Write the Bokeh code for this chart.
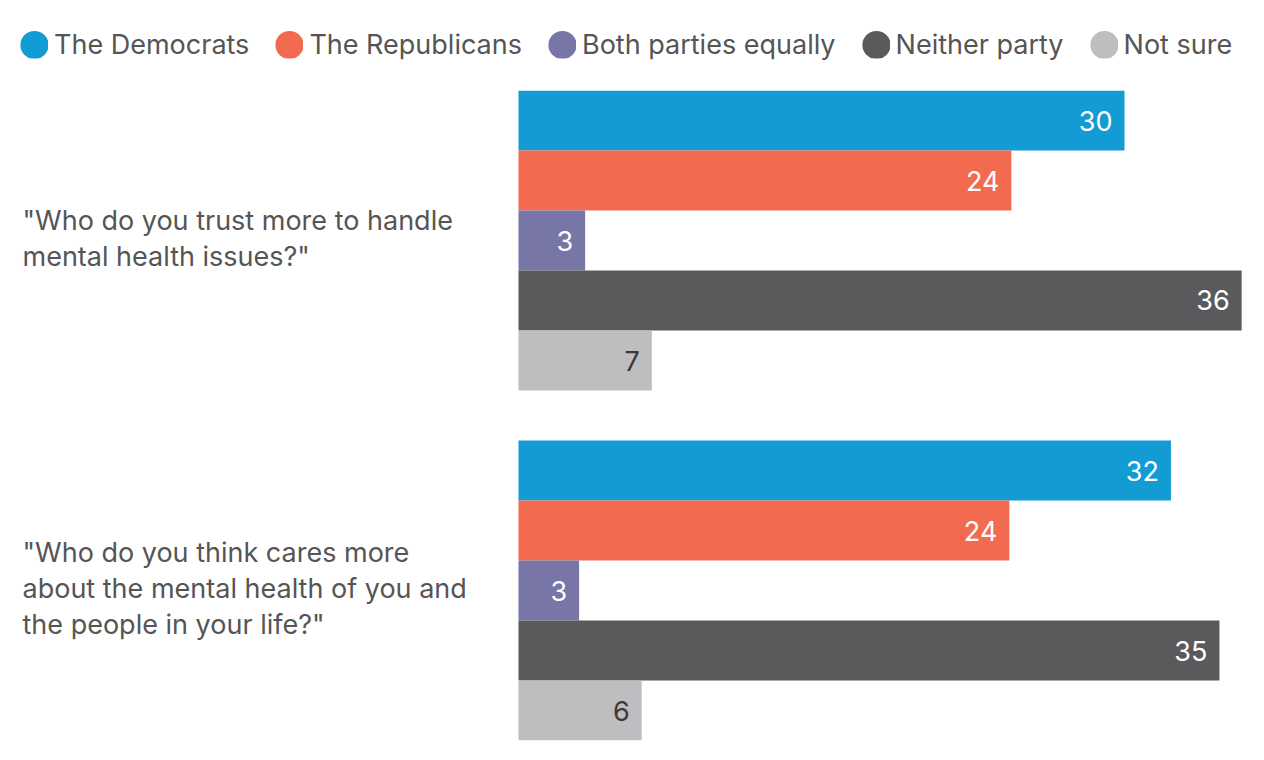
from bokeh.plotting import figure
from bokeh.layouts import column
from bokeh.models import FactorRange, Legend, LegendItem, Range1d
from bokeh.core.properties import value
from bokeh.embed import file_html
from bokeh.resources import INLINE


#data
questions = ['"Who do you trust more to handle\nmental health issues?"',
             '"Who do you think cares more\nabout the mental health of you and\nthe people in your life?"']
parties = ["The Democrats", "The Republicans", "Both parties equally", "Neither party", "Not sure"]
colors = ["#139bd4", "#f26b50", "#7876a6", "#5a5a5c", "#bebec0"]
democrats = [30.0, 32.3]
republicans = [24.4, 24.3]
both = [3.3, 3.0]
neither = [35.8, 34.7]
notsure = [6.6, 6.1]
shares = [democrats, republicans, both, neither, notsure]
labels = [[30, 32], [24, 24], [3, 3], [36, 35], [7, 6]]
label_colors = ["white", "white", "white", "white", "#3a3a3a"]

FONT = "Inter"
TEXT = "#555555"


#layout
W = 1264
legend_h = 88            # strip with the legend
H = 760 - legend_h
top, bottom = 2, 20      # px above / below the bars
bar_left = 518           # px where the zero line sits
px_per_unit = 20.2
x_start = -bar_left / px_per_unit
x_end = (W - bar_left) / px_per_unit


def bare(fig):
    fig.outline_line_color = None
    fig.xgrid.visible = False
    fig.ygrid.visible = False
    fig.xaxis.visible = False
    fig.yaxis.visible = False


#legend strip; the swatch renderers sit off screen, only their legend entries show
lf = figure(width=W, height=legend_h, x_range=Range1d(1, 2), y_range=Range1d(1, 2),
            output_backend="svg", toolbar_location=None,
            min_border_left=0, min_border_right=0, min_border_top=0, min_border_bottom=0)
bare(lf)
legend_items = []
for party, color in zip(parties, colors):
    swatch = lf.scatter(x=[0], y=[0], size=11, fill_color=color, line_color=color, line_width=17)
    legend_items.append(LegendItem(label=party, renderers=[swatch]))
legend = Legend(items=legend_items, orientation="horizontal", location="left",
                glyph_width=28, glyph_height=28, label_standoff=6, spacing=26,
                padding=0, margin=20, border_line_color=None, background_fill_alpha=0,
                label_text_font=FONT, label_text_font_size="27px", label_text_color=TEXT)
lf.add_layout(legend)


#bars
factors = [(q, party) for q in reversed(questions) for party in reversed(parties)]
y_range = FactorRange(factors=factors, factor_padding=0, group_padding=50 / 60, range_padding=0)

p = figure(width=W, height=H, y_range=y_range, x_range=Range1d(x_start, x_end),
           output_backend="svg", toolbar_location=None,
           min_border_left=0, min_border_right=0, min_border_top=top, min_border_bottom=bottom)
bare(p)

for party, color, vals, labs, lc in zip(parties, colors, shares, labels, label_colors):
    ys = [(q, party) for q in questions]
    p.hbar(y=ys, left=0, right=vals, height=1, color=color, line_color=None)
    p.text(x=vals, y=ys, text=[str(v) for v in labs], x_offset=-12,
           text_align="right", text_baseline="middle", text_color=lc,
           text_font=value(FONT), text_font_size="27px")


#question labels
p.text(x=[x_start] * len(questions), y=questions, text=questions, x_offset=22, y_offset=-2,
       text_align="left", text_baseline="middle", text_color=TEXT,
       text_font=value(FONT), text_font_size="27px", text_line_height=1.1)

open("out.html", "w").write(file_html(column(lf, p, spacing=0), INLINE))
